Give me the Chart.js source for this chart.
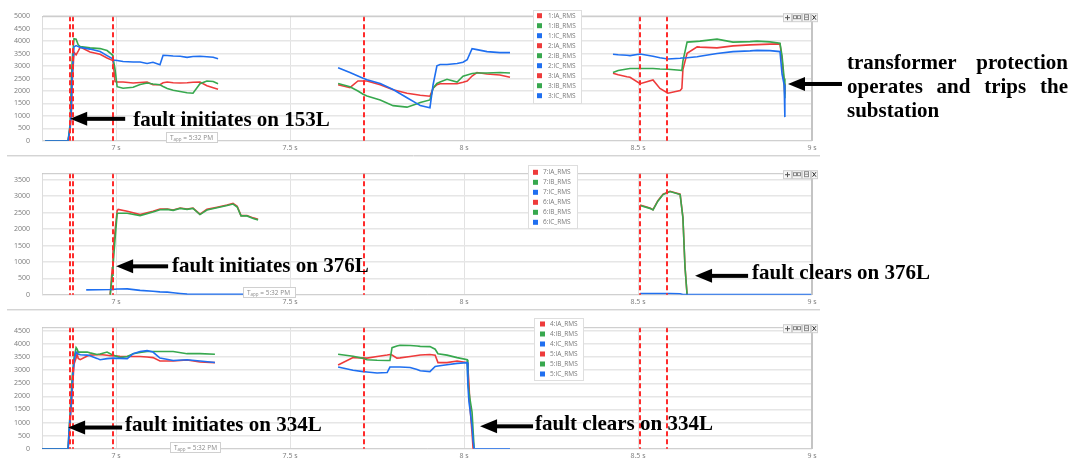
<!DOCTYPE html>
<html>
<head>
<meta charset="utf-8">
<script src="https://cdn.jsdelivr.net/npm/chart.js@4.4.1/dist/chart.umd.min.js"></script>
<style>
  html, body { margin: 0; padding: 0; background: #fff; }
  #wrap { position: relative; width: 1085px; height: 465px; overflow: hidden; }
  canvas { position: absolute; left: 0; }
</style>
</head>
<body>
<div id="wrap">
  <canvas id="c1" width="1085" height="157" style="top:0px"></canvas>
  <canvas id="c2" width="1085" height="154" style="top:157px"></canvas>
  <canvas id="c3" width="1085" height="154" style="top:311px"></canvas>
</div>
<script>
// --- axes ---
const xMin = 6.787;
const xMax = 9.0;
const xTicks = [7, 7.5, 8, 8.5, 9];
const markerTimes = [6.868, 6.876, 6.991, 7.713, 8.506, 8.583]; // red dashed event lines

const p1Ticks = [0, 500, 1000, 1500, 2000, 2500, 3000, 3500, 4000, 4500, 5000];
const p2Ticks = [0, 500, 1000, 1500, 2000, 2500, 3000, 3500];
const p3Ticks = [0, 500, 1000, 1500, 2000, 2500, 3000, 3500, 4000, 4500];
const p1Max = 5000, p2Max = 3700, p3Max = 4640;

// --- panel 1: relays 1, 2, 3 ---
const t1 = [6.796, 6.862, 6.868, 6.871, 6.874, 6.879, 6.885, 6.891, 6.897, 6.925, 6.954, 6.974, 6.989, 6.991, 6.997, 7.003,
            7.020, 7.049, 7.069, 7.089, 7.106, 7.126, 7.135, 7.147, 7.164, 7.184, 7.204, 7.221, 7.241, 7.261, 7.279, 7.293];
const s1IA = [0, 0, 500, 1000, 2400, 3550, 3450, 3600, 3760, 3560, 3470, 3320, 3230, 3200, 2380, 2360,
              2360, 2320, 2340, 2360, 2250, 2250, 2330, 2360, 2330, 2320, 2330, 2350, 2360, 2210, 2130, 2070];
const s1IB = [0, 0, 700, 2300, 3300, 4100, 4080, 3850, 3780, 3730, 3700, 3620, 3450, 3350, 2860, 2170,
              2110, 2150, 2260, 2320, 2280, 2250, 2180, 2100, 2030, 1980, 1930, 1910, 2290, 2400, 2380, 2290];
const s1IC = [0, 0, 600, 1200, 2700, 3770, 3820, 3780, 3750, 3680, 3580, 3420, 3300, 3240, 3230, 3220,
              3180, 3160, 3160, 3100, 3150, 3050, 3430, 3420, 3400, 3390, 3350, 3380, 3390, 3370, 3350, 3290];

const t2 = [7.638, 7.672, 7.695, 7.710, 7.721, 7.759, 7.796, 7.836, 7.865, 7.874, 7.902, 7.911, 7.922, 7.931, 7.951, 7.980,
            7.997, 8.009, 8.023, 8.037, 8.066, 8.103, 8.132];
const s2IA = [2250, 2130, 2400, 2400, 2400, 2250, 2050, 1910, 1850, 1830, 1790, 2110, 2250, 2290, 2290, 2290,
              2350, 2400, 2600, 2740, 2680, 2640, 2550];
const s2IB = [2300, 2170, 2000, 1870, 1800, 1640, 1410, 1350, 1490, 1540, 1640, 2110, 2300, 2360, 2470, 2360,
              2590, 2640, 2700, 2720, 2720, 2740, 2720];
const s2IC = [2930, 2740, 2600, 2510, 2450, 2300, 2060, 1730, 1490, 1420, 1330, 2250, 3010, 3060, 3060, 3100,
              3150, 3250, 3700, 3660, 3580, 3540, 3540];

const t3 = [8.428, 8.443, 8.468, 8.477, 8.506, 8.543, 8.563, 8.586, 8.621, 8.626, 8.629, 8.641, 8.670, 8.678, 8.727, 8.773,
            8.822, 8.842, 8.879, 8.908, 8.914, 8.920, 8.922];
const s3IA = [2710, 2650, 2570, 2550, 2290, 2440, 2100, 1910, 2020, 2100, 2860, 3510, 3770, 3760, 3730, 3810,
              3850, 3860, 3880, 3890, 3240, 2300, 1870];
const s3IB = [2740, 2820, 2880, 2900, 2900, 2900, 2880, 2870, 2830, 2820, 3200, 3960, 3990, 4000, 4080, 3960,
              3980, 4000, 3970, 3920, 3400, 2500, 1710];
const s3IC = [3470, 3450, 3430, 3420, 3480, 3390, 3330, 3280, 3310, 3320, 3320, 3330, 3370, 3390, 3500, 3580,
              3610, 3630, 3620, 3580, 2670, 2250, 950];

// --- panel 2: relays 7, 6 (376L) ---
const t7 = [6.914, 6.983, 6.989, 6.991, 6.997, 7.003, 7.006, 7.032, 7.069, 7.106, 7.126, 7.147, 7.164, 7.184, 7.204, 7.221,
            7.241, 7.261, 7.290, 7.319, 7.336, 7.348, 7.359, 7.376, 7.394, 7.408];
const s7IA = [null, 0, 820, 1300, 1950, 2560, 2600, 2545, 2440, 2545, 2610, 2610, 2580, 2640, 2610, 2640,
              2455, 2600, 2665, 2730, 2780, 2690, 2410, 2410, 2340, 2300];
const s7IB = [null, 0, 600, 860, 1700, 2470, 2480, 2480, 2410, 2520, 2590, 2600, 2570, 2630, 2600, 2630,
              2440, 2580, 2650, 2720, 2760, 2670, 2400, 2400, 2320, 2280];
const s7IC = [150, 160, 165, 170, 170, 175, 175, 180, 135, 110, 90, 80, 60, 40, 20, 15,
              15, 15, 15, 15, 15, 15, 15, 15, 15, 15];

const t6 = [8.506, 8.534, 8.543, 8.557, 8.572, 8.592, 8.621, 8.629, 8.635, 8.641, 8.700, 8.800, 8.900, 9.000];
const s6IA = [2730, 2640, 2590, 2865, 3060, 3150, 3060, 2360, 860, 0, null, null, null, null];
const s6IB = [2720, 2630, 2580, 2850, 3050, 3140, 3050, 2340, 840, 0, null, null, null, null];
const s6IC = [40, 40, 40, 40, 40, 40, 30, 10, 5, 5, 5, 5, 5, 5];

// --- panel 3: relays 4, 5 (334L) ---
const t4 = [6.787, 6.862, 6.865, 6.868, 6.874, 6.879, 6.885, 6.888, 6.891, 6.897, 6.917, 6.925, 6.945, 6.954, 6.974, 6.983,
            6.991, 7.011, 7.032, 7.049, 7.069, 7.089, 7.106, 7.126, 7.164, 7.204, 7.241, 7.284];
const s4IA = [0, 0, 500, 1000, 2200, 3230, 3460, 3630, 3450, 3400, 3540, 3575, 3590, 3600, 3570, 3550,
              3550, 3530, 3520, 3520, 3520, 3500, 3480, 3350, 3350, 3390, 3310, 3290];
const s4IB = [0, 0, 800, 1400, 2800, 3460, 3860, 3800, 3690, 3690, 3690, 3660, 3600, 3620, 3690, 3630,
              3575, 3480, 3520, 3630, 3680, 3710, 3710, 3710, 3710, 3630, 3630, 3610];
const s4IC = [0, 0, 720, 1200, 2430, 3350, 3690, 3650, 3620, 3590, 3575, 3550, 3450, 3400, 3440, 3450,
              3460, 3450, 3440, 3630, 3710, 3745, 3690, 3460, 3370, 3400, 3350, 3290];

const t5 = [7.638, 7.681, 7.710, 7.721, 7.750, 7.779, 7.787, 7.793, 7.807, 7.816, 7.845, 7.865, 7.874, 7.902, 7.917, 7.925,
            7.951, 7.980, 8.009, 8.011, 8.014, 8.017, 8.023, 8.026, 8.029, 8.066, 8.132];
const s5IA = [3200, 3480, 3470, 3460, 3520, 3580, 3600, 3580, 3460, 3470, 3520, 3560, 3580, 3600, 3575, 3290,
              3290, 3350, 3290, 3100, 2500, 1630, 600, 0, 0, null, null];
const s5IB = [3610, 3530, 3450, 3400, 3380, 3370, 3370, 3860, 3920, 3950, 3940, 3920, 3910, 3900, 3800, 3630,
              3575, 3480, 3400, 2600, 2200, 1900, 1400, 700, 30, null, null];
const s5IC = [3120, 3000, 2945, 2930, 2890, 2910, 3120, 3120, 3120, 3120, 3100, 3030, 2980, 2945, 3140, 3160,
              3210, 3260, 3290, 2430, 1800, 1500, 845, 300, 0, 0, 0];

const colIA = '#ee3b3b';
const colIB = '#37a84e';
const colIC = '#1f6ff0';

Chart.defaults.font.family = '"Open Sans", sans-serif';

// IC drawn on top, then IB, then IA underneath
const serie = (label, times, values, color, order) => ({
    label: label,
    data: times.map((t, i) => ({ x: t, y: values[i] })),
    borderColor: color,
    backgroundColor: color,
    borderWidth: 1.6,
    pointRadius: 0,
    tension: 0,
    spanGaps: false,
    order: order
});

// arrow with a filled head pointing left
function arrow(ctx, tipX, tipY, len) {
    ctx.fillStyle = '#000';
    ctx.beginPath();
    ctx.moveTo(tipX, tipY);
    ctx.lineTo(tipX + 17, tipY - 7);
    ctx.lineTo(tipX + 17, tipY + 7);
    ctx.closePath();
    ctx.fill();
    ctx.fillRect(tipX + 15, tipY - 2, len - 15, 4);
}

function justified(ctx, words, x0, x1, base, fill) {
    if (!fill || words.length < 2) {
        ctx.fillText(words.join(' '), x0, base);
        return;
    }
    const widths = words.map(w => ctx.measureText(w).width);
    const gap = (x1 - x0 - widths.reduce((a, b) => a + b, 0)) / (words.length - 1);
    let x = x0;
    words.forEach((w, i) => { ctx.fillText(w, x, base); x += widths[i] + gap; });
}

const extras = {
    id: 'extras',
    afterDatasetsDraw(chart, args, o) {
        const { ctx, chartArea: a, scales: { x, y } } = chart;
        ctx.save();

        // event markers
        ctx.strokeStyle = '#ff2b2b';
        ctx.lineWidth = 2;
        ctx.setLineDash([5, 3]);
        markerTimes.forEach(t => {
            const px = Math.round(x.getPixelForValue(t));
            ctx.beginPath();
            ctx.moveTo(px, a.top);
            ctx.lineTo(px, a.bottom);
            ctx.stroke();
        });
        ctx.setLineDash([]);

        // frame: top and right edge
        ctx.strokeStyle = '#c4c4c4';
        ctx.lineWidth = 1;
        ctx.beginPath();
        ctx.moveTo(a.left, a.top + 0.5);
        ctx.lineTo(a.right, a.top + 0.5);
        ctx.stroke();
        ctx.lineWidth = 2;
        ctx.beginPath();
        ctx.moveTo(a.right, a.top);
        ctx.lineTo(a.right, a.bottom);
        ctx.stroke();

        // separator under the panel
        if (o.sep) {
            ctx.strokeStyle = '#d4d4d4';
            ctx.lineWidth = 1;
            ctx.beginPath();
            ctx.moveTo(7, o.sep + 0.5);
            ctx.lineTo(820, o.sep + 0.5);
            ctx.stroke();
            ctx.strokeStyle = '#ececec';
            ctx.beginPath();
            ctx.moveTo(7, o.sep + 1.5);
            ctx.lineTo(820, o.sep + 1.5);
            ctx.stroke();
        }

        // legend (in dataset order)
        const L = o.legend;
        ctx.fillStyle = '#fff';
        ctx.fillRect(L.x, L.y, L.w, L.h);
        ctx.strokeStyle = '#dedede';
        ctx.lineWidth = 1;
        ctx.strokeRect(L.x + 0.5, L.y + 0.5, L.w, L.h);
        ctx.font = '6.5px "Open Sans"';
        ctx.textBaseline = 'middle';
        chart.data.datasets.forEach((d, i) => {
            const ry = L.row0 + i * 10;
            ctx.fillStyle = d.borderColor;
            ctx.fillRect(L.sqX, ry - 2.5, 5, 5);
            ctx.fillStyle = '#7a7a7a';
            ctx.fillText(d.label, L.textX, ry);
        });

        // time stamp box
        const T = o.tapp;
        ctx.fillStyle = '#fff';
        ctx.fillRect(T.x, T.y, T.w, T.h);
        ctx.strokeStyle = '#d0d0d0';
        ctx.strokeRect(T.x + 0.5, T.y + 0.5, T.w, T.h);
        ctx.fillStyle = '#8a8a8a';
        ctx.textBaseline = 'alphabetic';
        ctx.font = '6.5px "Open Sans"';
        let tx = T.x + 4;
        ctx.fillText('T', tx, T.y + 7.5);
        tx += ctx.measureText('T').width;
        ctx.font = '4.5px "Open Sans"';
        ctx.fillText('app', tx, T.y + 8.8);
        tx += ctx.measureText('app').width;
        ctx.font = '6.5px "Open Sans"';
        ctx.fillText(' = 5:32 PM', tx, T.y + 7.5);

        // toolbar icons
        const bx = a.right - 29, by = a.top - 3;
        ctx.strokeStyle = '#cfcfcf';
        ctx.lineWidth = 1;
        [[0, 8], [9, 9], [19, 8], [28, 6]].forEach(([dx, w]) => {
            ctx.fillStyle = '#f6f6f6';
            ctx.fillRect(bx + dx, by, w, 8);
            ctx.strokeRect(bx + dx + 0.5, by + 0.5, w, 8);
        });
        ctx.strokeStyle = '#555';
        ctx.beginPath();
        ctx.moveTo(bx + 2, by + 4.5); ctx.lineTo(bx + 7, by + 4.5);
        ctx.moveTo(bx + 4.5, by + 2); ctx.lineTo(bx + 4.5, by + 7);
        ctx.stroke();
        ctx.strokeStyle = '#888';
        ctx.strokeRect(bx + 10.5, by + 2.5, 3, 3);
        ctx.strokeRect(bx + 14.5, by + 2.5, 3, 3);
        ctx.strokeRect(bx + 21.5, by + 1.5, 4, 5);
        ctx.beginPath();
        ctx.moveTo(bx + 21.5, by + 4); ctx.lineTo(bx + 25.5, by + 4);
        ctx.stroke();
        ctx.strokeStyle = '#333';
        ctx.beginPath();
        ctx.moveTo(bx + 29.5, by + 2); ctx.lineTo(bx + 33, by + 6.5);
        ctx.moveTo(bx + 33, by + 2); ctx.lineTo(bx + 29.5, by + 6.5);
        ctx.stroke();

        // annotations
        ctx.font = 'bold 21px "Liberation Serif", "Times New Roman", serif';
        ctx.textBaseline = 'alphabetic';
        (o.notes || []).forEach(n => {
            const px = x.getPixelForValue(n.t);
            const py = y.getPixelForValue(n.v);
            arrow(ctx, px, py, n.len);
            ctx.fillStyle = '#000';
            if (n.text) ctx.fillText(n.text, px + n.dx, py + n.dy);
        });
        if (o.block) {
            const B = o.block;
            ctx.fillStyle = '#000';
            B.lines.forEach((words, i) => {
                justified(ctx, words, B.x0, B.x1, B.base[i], i < B.lines.length - 1);
            });
        }
        ctx.restore();
    }
};

function makeChart(id, datasets, yMax, yTicks, panel) {
    return new Chart(document.getElementById(id), {
        type: 'line',
        data: { datasets: datasets },
        options: {
            animation: false,
            responsive: false,
            devicePixelRatio: 1,
            layout: { padding: { top: panel.top, right: 273, left: 0, bottom: 0 } },
            plugins: {
                legend: { display: false },
                tooltip: { enabled: false },
                extras: panel
            },
            scales: {
                x: {
                    type: 'linear',
                    min: xMin,
                    max: xMax,
                    afterBuildTicks: s => { s.ticks = xTicks.map(v => ({ value: v })); },
                    afterFit: s => { s.height = panel.axisH; },
                    ticks: {
                        callback: v => v + ' s',
                        padding: 3,
                        autoSkip: false,
                        maxRotation: 0,
                        color: '#7a7a7a',
                        font: { size: 7 }
                    },
                    grid: { color: '#e2e2e2', drawTicks: false },
                    border: { color: '#d0d0d0' }
                },
                y: {
                    min: 0,
                    max: yMax,
                    afterBuildTicks: s => { s.ticks = yTicks.map(v => ({ value: v })); },
                    afterFit: s => { s.width = 42; },
                    ticks: {
                        callback: v => String(v),
                        padding: 12,
                        color: '#7a7a7a',
                        font: { size: 7 }
                    },
                    grid: { color: '#e6e6e6', lineWidth: 1.5, drawTicks: false },
                    border: { color: '#dcdcdc' }
                }
            }
        },
        plugins: [extras]
    });
}

makeChart('c1', [
    serie('1:IA_RMS', t1, s1IA, colIA, 2),
    serie('1:IB_RMS', t1, s1IB, colIB, 1),
    serie('1:IC_RMS', t1, s1IC, colIC, 0),
    serie('2:IA_RMS', t2, s2IA, colIA, 2),
    serie('2:IB_RMS', t2, s2IB, colIB, 1),
    serie('2:IC_RMS', t2, s2IC, colIC, 0),
    serie('3:IA_RMS', t3, s3IA, colIA, 2),
    serie('3:IB_RMS', t3, s3IB, colIB, 1),
    serie('3:IC_RMS', t3, s3IC, colIC, 0)
], p1Max, p1Ticks, {
    top: 9, axisH: 12, sep: 155,
    legend: { x: 533, y: 10, w: 48, h: 93, row0: 15.7, sqX: 537, textX: 548 },
    tapp: { x: 166, y: 132, w: 51, h: 10 },
    notes: [
        { t: 6.868, v: 882, len: 55, dx: 63, dy: 7, text: 'fault initiates on 153L' },
        { t: 8.931, v: 2280, len: 54, dx: 59, dy: -14, text: '' }
    ],
    block: {
        x0: 847, x1: 1068, base: [69, 93, 117],
        lines: [['transformer', 'protection'], ['operates', 'and', 'trips', 'the'], ['substation']]
    }
});

makeChart('c2', [
    serie('7:IA_RMS', t7, s7IA, colIA, 2),
    serie('7:IB_RMS', t7, s7IB, colIB, 1),
    serie('7:IC_RMS', t7, s7IC, colIC, 0),
    serie('6:IA_RMS', t6, s6IA, colIA, 2),
    serie('6:IB_RMS', t6, s6IB, colIB, 1),
    serie('6:IC_RMS', t6, s6IC, colIC, 0)
], p2Max, p2Ticks, {
    top: 6, axisH: 12.7, sep: 152,
    legend: { x: 528, y: 8, w: 49, h: 63, row0: 15.3, sqX: 533, textX: 543 },
    tapp: { x: 243, y: 130, w: 52, h: 10 },
    notes: [
        { t: 7.0, v: 866, len: 52, dx: 56, dy: 6, text: 'fault initiates on 376L' },
        { t: 8.664, v: 576, len: 53, dx: 57, dy: 3, text: 'fault clears on 376L' }
    ]
});

makeChart('c3', [
    serie('4:IA_RMS', t4, s4IA, colIA, 2),
    serie('4:IB_RMS', t4, s4IB, colIB, 1),
    serie('4:IC_RMS', t4, s4IC, colIC, 0),
    serie('5:IA_RMS', t5, s5IA, colIA, 2),
    serie('5:IB_RMS', t5, s5IB, colIB, 1),
    serie('5:IC_RMS', t5, s5IC, colIC, 0)
], p3Max, p3Ticks, {
    top: 6.3, axisH: 12.3,
    legend: { x: 534, y: 7, w: 49, h: 62, row0: 13, sqX: 540, textX: 550 },
    tapp: { x: 170, y: 131, w: 50, h: 10 },
    notes: [
        { t: 6.862, v: 812, len: 54, dx: 57, dy: 3, text: 'fault initiates on 334L' },
        { t: 8.046, v: 857, len: 53, dx: 55, dy: 4, text: 'fault clears on 334L' }
    ]
});
</script>
</body>
</html>
